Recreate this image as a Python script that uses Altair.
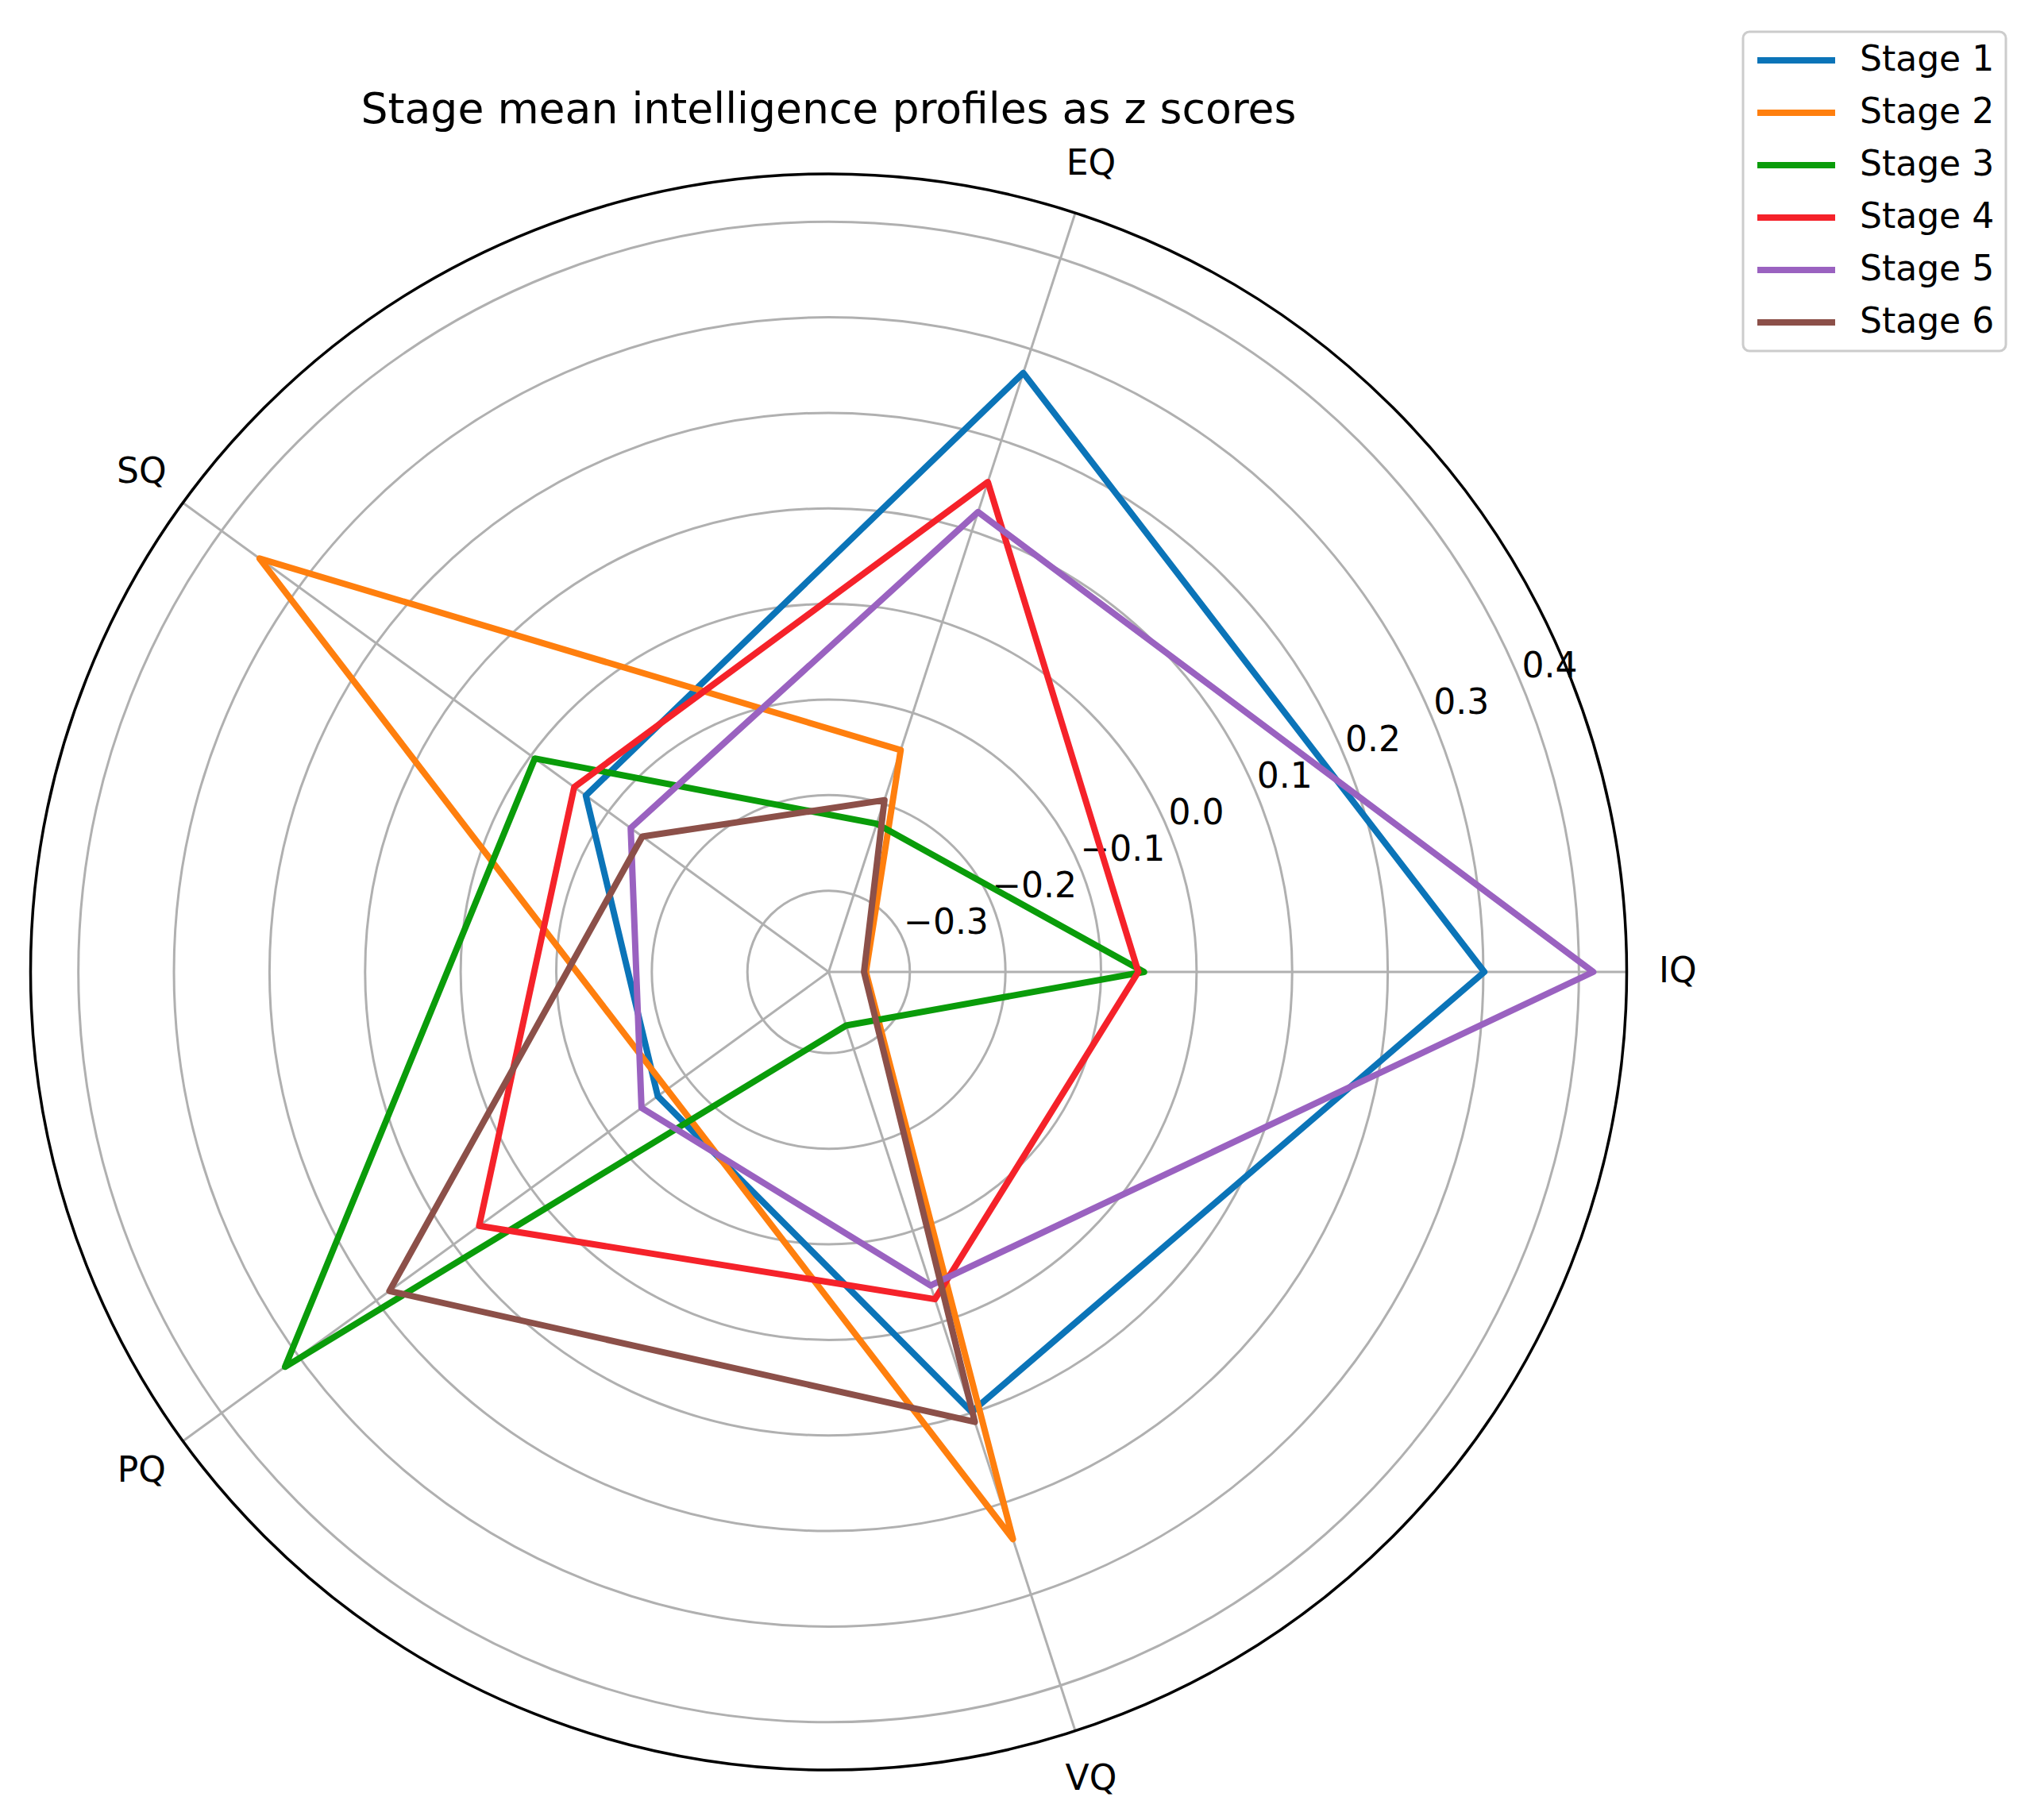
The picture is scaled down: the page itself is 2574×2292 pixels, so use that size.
import math
import altair as alt
import pandas as pd

# ---------------- data ----------------
categories = ["IQ", "EQ", "SQ", "PQ", "VQ"]
stages = ["Stage 1", "Stage 2", "Stage 3", "Stage 4", "Stage 5", "Stage 6"]

stage1 = [0.301, 0.274, -0.071, -0.164, 0.099]
stage2 = [-0.346, -0.141, 0.351, -0.176, 0.239]
stage3 = [-0.055, -0.222, -0.005, 0.318, -0.326]
stage4 = [-0.061, 0.154, -0.056, 0.067, -0.025]
stage5 = [0.415, 0.121, -0.129, -0.143, -0.040]
stage6 = [-0.348, -0.196, -0.144, 0.183, 0.110]
series = [stage1, stage2, stage3, stage4, stage5, stage6]

tick_values = [-0.3, -0.2, -0.1, 0.0, 0.1, 0.2, 0.3, 0.4]
tick_labels = ["\u22120.3", "\u22120.2", "\u22120.1", "0.0", "0.1", "0.2", "0.3", "0.4"]

colors = ["#0b74b8", "#ff7f0e", "#0a9c0a", "#f5222a", "#9a62c0", "#8c5049"]

R_MIN, R_MAX = -0.385, 0.45
SPAN = R_MAX - R_MIN
N = len(categories)
FONT = "DejaVu Sans"

# ---------------- tables ----------------
rows = []
for s, vals in zip(stages, series):
    for i, (c, v) in enumerate(zip(categories, vals)):
        rows.append({"stage": s, "axis": c, "idx": i, "value": v})
lines_df = pd.DataFrame(rows)
axes_df = pd.DataFrame({"axis": categories, "idx": list(range(N))})
ticks_df = pd.DataFrame({"v": tick_values, "label": tick_labels})
outer_df = pd.DataFrame({"v": [R_MAX]})

xs = alt.Scale(domain=[-SPAN, SPAN], nice=False, zero=False)
ys = alt.Scale(domain=[-SPAN, SPAN], nice=False, zero=False)
rs = alt.Scale(type="linear", domain=[R_MIN, R_MAX], range=[0, {"expr": "width/2"}],
               nice=False, zero=False)
ANG = f"datum.idx * 2 * PI / {N}"

grid = alt.Chart(ticks_df).mark_arc(
    filled=False, stroke="#b0b0b0", strokeWidth=3, theta=0, theta2=2 * math.pi
).encode(radius=alt.Radius("v:Q", scale=rs, stack=None), radius2=alt.value(0))

outer = alt.Chart(outer_df).mark_arc(
    filled=False, stroke="black", strokeWidth=3.5, theta=0, theta2=2 * math.pi
).encode(radius=alt.Radius("v:Q", scale=rs, stack=None), radius2=alt.value(0))

spokes = alt.Chart(axes_df).transform_calculate(
    ang=ANG
).transform_calculate(
    xe=f"{SPAN} * cos(datum.ang)", ye=f"{SPAN} * sin(datum.ang)", zero="0"
).mark_rule(color="#b0b0b0", strokeWidth=3).encode(
    x=alt.X("zero:Q", scale=xs, axis=None),
    y=alt.Y("zero:Q", scale=ys, axis=None),
    x2="xe:Q", y2="ye:Q",
)

cat_labels = alt.Chart(axes_df).transform_calculate(
    ang=ANG
).transform_calculate(
    lx=f"{SPAN} * 1.064 * cos(datum.ang)", ly=f"{SPAN} * 1.064 * sin(datum.ang)"
).mark_text(font=FONT, fontSize=44, color="black", align="center", baseline="middle").encode(
    x=alt.X("lx:Q", scale=xs, axis=None),
    y=alt.Y("ly:Q", scale=ys, axis=None),
    text="axis:N",
)

r_labels = alt.Chart(ticks_df).transform_calculate(
    tx=f"(datum.v - ({R_MIN})) * cos(PI / 8)", ty=f"(datum.v - ({R_MIN})) * sin(PI / 8)"
).mark_text(font=FONT, fontSize=44, color="black", align="left", baseline="bottom").encode(
    x=alt.X("tx:Q", scale=xs, axis=None),
    y=alt.Y("ty:Q", scale=ys, axis=None),
    text="label:N",
)

lines = alt.Chart(lines_df).transform_calculate(
    ang=ANG
).transform_calculate(
    x=f"(datum.value - ({R_MIN})) * cos(datum.ang)",
    y=f"(datum.value - ({R_MIN})) * sin(datum.ang)",
).mark_line(interpolate="linear-closed", strokeWidth=8, strokeJoin="round").encode(
    x=alt.X("x:Q", scale=xs, axis=None),
    y=alt.Y("y:Q", scale=ys, axis=None),
    color=alt.Color(
        "stage:N",
        scale=alt.Scale(domain=stages, range=colors),
        legend=alt.Legend(
            title=None, orient="none", legendX=2156.5, legendY=-179,
            symbolType="stroke", symbolSize=9604, symbolStrokeWidth=8,
            labelFont=FONT, labelFontSize=44, labelColor="black", labelLimit=500,
            labelOffset=27, rowPadding=22, padding=14, clipHeight=44,
            fillColor="white", strokeColor="#cccccc", cornerRadius=8,
        ),
    ),
    order=alt.Order("idx:Q"),
    detail="stage:N",
)

chart = alt.layer(grid, spokes, outer, r_labels, cat_labels, lines).properties(
    width=2010,
    height=2010,
    autosize=alt.AutoSizeParams(type="none"),
    padding={"left": 30.5, "top": 211, "right": 500, "bottom": 50},
    title=alt.TitleParams(
        text="Stage mean intelligence profiles as z scores",
        font=FONT, fontSize=53.6, fontWeight="normal", color="black",
        anchor="middle", frame="group", baseline="alphabetic", offset=0, dy=170.5,
    ),
).configure_view(stroke=None).configure_legend(strokeWidth=3)

chart.save("out.html", embed_options={"renderer": "svg", "actions": False})
